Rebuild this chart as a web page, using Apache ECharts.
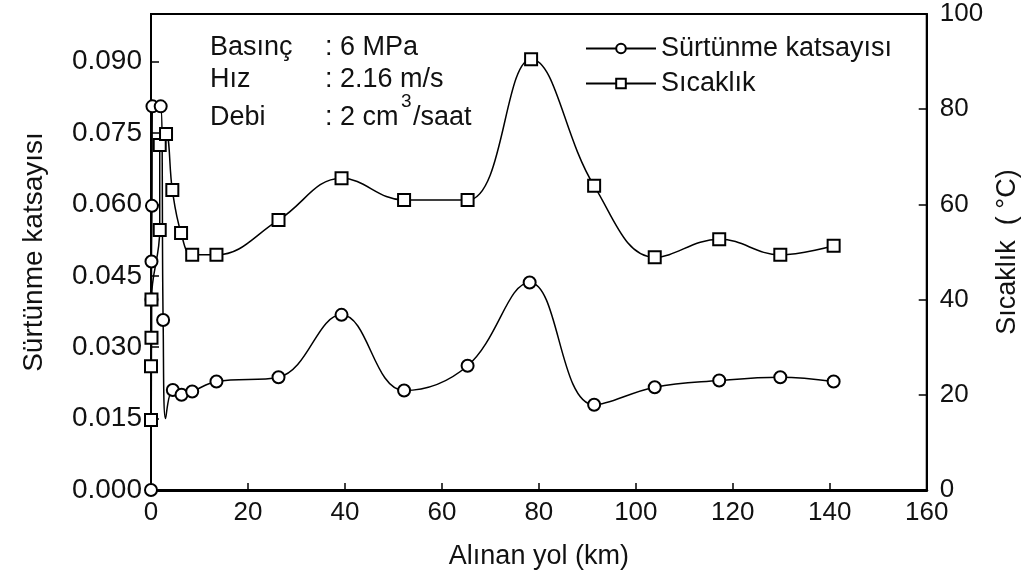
<!DOCTYPE html>
<html>
<head>
<meta charset="utf-8">
<script src="https://cdn.jsdelivr.net/npm/echarts@6/dist/echarts.min.js"></script>
<style>
  html, body { margin: 0; padding: 0; background: #fff; }
  #chart { width: 1029px; height: 588px; }
</style>
</head>
<body>
<div id="chart"></div>
<script>
var chart = echarts.init(document.getElementById("chart"));

// alınan yol (km) / sürtünme katsayısı
var surtunmeKm = [0, 0.1, 0.1, 0.2, 0.3, 2.0, 2.5, 3.0, 4.5, 6.3, 8.5, 13.5, 26.3, 39.3, 52.2, 65.3, 78.1, 91.4, 103.9, 117.2, 129.8, 140.8];
var surtunme   = [0, 0.040, 0.048, 0.0597, 0.0806, 0.0806, 0.0357, 0.015, 0.021, 0.020, 0.0207, 0.0228, 0.0237, 0.0368, 0.0209, 0.0261, 0.0436, 0.0179, 0.0216, 0.0230, 0.0237, 0.0228];

// alınan yol (km) / sıcaklık (°C)
var sicaklikKm = [0, 0, 0.1, 0.1, 1.8, 1.8, 3.1, 4.4, 6.2, 8.5, 13.5, 26.3, 39.3, 52.2, 65.3, 78.4, 91.4, 103.9, 117.2, 129.8, 140.8];
var sicaklik   = [14.7, 26, 32, 40, 54.6, 72.5, 74.8, 63, 54, 49.4, 49.4, 56.7, 65.5, 60.9, 60.9, 90.5, 63.9, 48.9, 52.7, 49.4, 51.3];

function pairs(xs, ys) {
    return xs.map(function (x, i) { return [x, ys[i]]; });
}

var font = 'Liberation Sans, Arial, sans-serif';
var tick = { color: '#111', fontFamily: font, fontSize: 26 };
var big = { color: '#111', fontFamily: font, fontSize: 27 };
var note = '27px ' + font;

option = {
    backgroundColor: '#fff',
    animation: false,
    textStyle: big,
    grid: {
        left: 151,
        right: 98,
        top: 14,
        bottom: 98,
        show: true,
        borderColor: '#000',
        borderWidth: 2
    },
    legend: {
        orient: 'vertical',
        left: 580,
        top: 30,
        itemWidth: 70,
        itemHeight: 12,
        itemGap: 8,
        textStyle: big,
        data: ['Sürtünme katsayısı', 'Sıcaklık']
    },
    xAxis: {
        type: 'value',
        min: 0,
        max: 160,
        interval: 20,
        name: 'Alınan yol (km)',
        nameLocation: 'middle',
        nameGap: 53,
        nameTextStyle: big,
        axisLine: { lineStyle: { color: '#000', width: 3 } },
        axisTick: { inside: true, length: 7, lineStyle: { color: '#000', width: 1.5 } },
        axisLabel: Object.assign({ margin: 10 }, tick),
        splitLine: { show: false }
    },
    yAxis: [
        {
            type: 'value',
            min: 0,
            max: 0.1,
            interval: 0.015,
            name: 'Sürtünme katsayısı',
            nameLocation: 'middle',
            nameGap: 103,
            nameTextStyle: { color: '#111', fontFamily: font, fontSize: 28 },
            axisLine: { show: true, lineStyle: { color: '#000', width: 2 } },
            axisTick: { inside: true, length: 8, lineStyle: { color: '#000', width: 1.5 } },
            axisLabel: {
                color: '#111',
                fontFamily: font,
                fontSize: 28,
                margin: 9,
                showMaxLabel: false,
                formatter: function (v) { return v > 0.095 ? '' : v.toFixed(3); }
            },
            splitLine: { show: false }
        },
        {
            type: 'value',
            min: 0,
            max: 100,
            interval: 20,
            position: 'right',
            name: 'Sıcaklık  ( °C)',
            nameLocation: 'middle',
            nameGap: 66,
            nameTextStyle: big,
            axisLine: { show: true, lineStyle: { color: '#000', width: 2 } },
            axisTick: { inside: true, length: 8, lineStyle: { color: '#000', width: 1.5 } },
            axisLabel: Object.assign({ margin: 13 }, tick),
            splitLine: { show: false }
        }
    ],
    graphic: [
        { type: 'text', left: 210, top: 34, style: { text: 'Basınç', font: note, fill: '#111' } },
        { type: 'text', left: 325, top: 34, style: { text: ': 6 MPa', font: note, fill: '#111' } },
        { type: 'text', left: 210, top: 66, style: { text: 'Hız', font: note, fill: '#111' } },
        { type: 'text', left: 325, top: 66, style: { text: ': 2.16 m/s', font: note, fill: '#111' } },
        { type: 'text', left: 210, top: 104, style: { text: 'Debi', font: note, fill: '#111' } },
        { type: 'text', left: 325, top: 104, style: { text: ': 2 cm', font: note, fill: '#111' } },
        { type: 'text', left: 401, top: 92, style: { text: '3', font: '19px ' + font, fill: '#111' } },
        { type: 'text', left: 413, top: 104, style: { text: '/saat', font: note, fill: '#111' } }
    ],
    series: [
        {
            name: 'Sürtünme katsayısı',
            type: 'line',
            yAxisIndex: 0,
            smooth: 0.4,
            symbol: 'emptyCircle',
            // the turning point at ~3 km has no marker in the original
            symbolSize: function (v, p) { return p && p.dataIndex === 7 ? 0 : 12; },
            lineStyle: { color: '#000', width: 1.5 },
            itemStyle: { color: '#000', borderWidth: 1 },
            data: pairs(surtunmeKm, surtunme)
        },
        {
            name: 'Sıcaklık',
            type: 'line',
            yAxisIndex: 1,
            smooth: 0.4,
            symbol: 'emptyRect',
            symbolSize: 12,
            lineStyle: { color: '#000', width: 1.5 },
            itemStyle: { color: '#000', borderWidth: 1 },
            data: pairs(sicaklikKm, sicaklik)
        }
    ]
};

chart.setOption(option);
</script>
</body>
</html>
